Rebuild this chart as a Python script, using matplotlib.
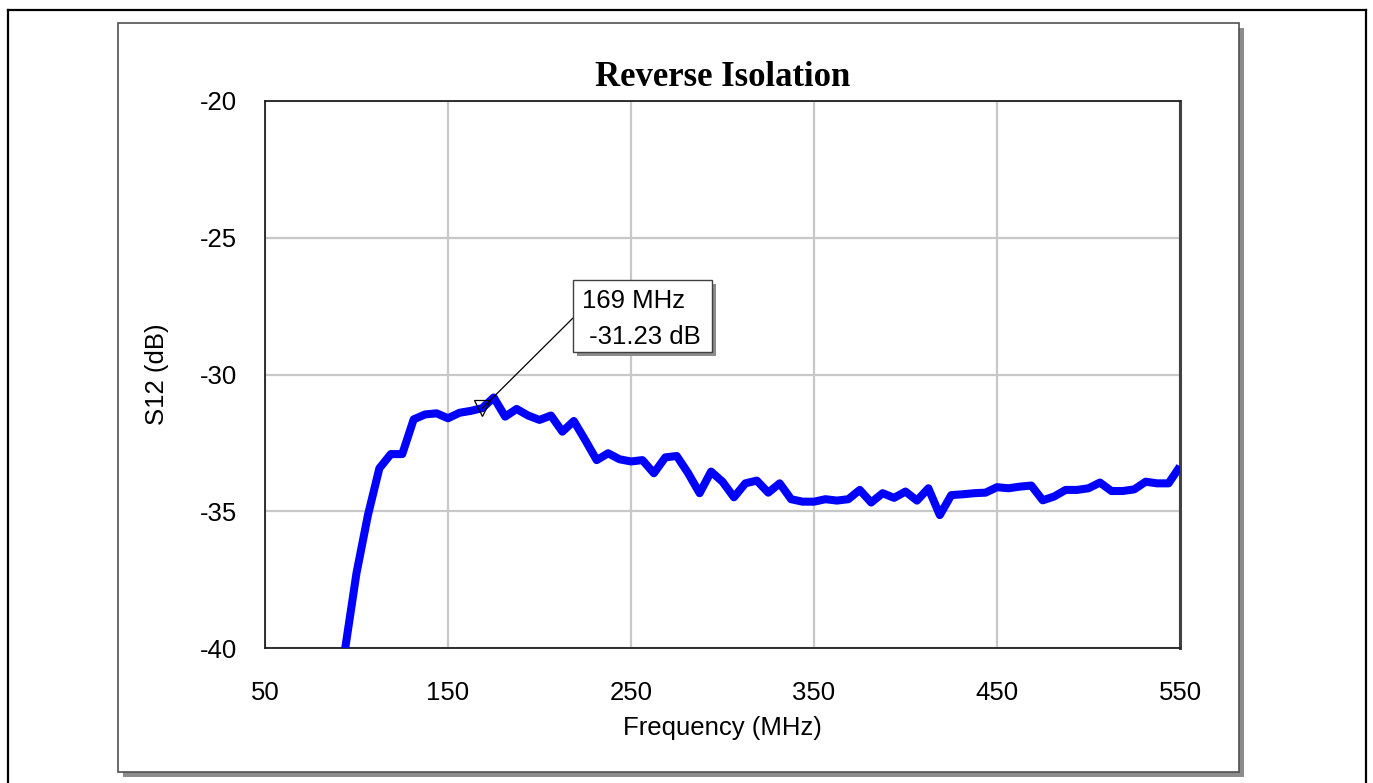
import numpy as np
import matplotlib
matplotlib.use("Agg")
import matplotlib.pyplot as plt
from matplotlib.patches import Rectangle
from matplotlib.lines import Line2D

# ---- data ----
freq_start = 87.5
freq_step = 6.25
s12_db = [
    -46.0, -40.05, -37.26, -35.14, -33.43, -32.91, -32.91, -31.64, -31.46, -31.42,
    -31.60, -31.40, -31.33, -31.23, -30.84, -31.54, -31.26, -31.50, -31.66, -31.50,
    -32.09, -31.70, -32.40, -33.13, -32.88, -33.10, -33.18, -33.13, -33.61, -33.03,
    -32.98, -33.61, -34.34, -33.55, -33.92, -34.49, -33.98, -33.88, -34.32, -33.98,
    -34.56, -34.65, -34.65, -34.56, -34.61, -34.56, -34.22, -34.68, -34.34, -34.51,
    -34.28, -34.61, -34.16, -35.14, -34.41, -34.38, -34.34, -34.32, -34.12, -34.16,
    -34.10, -34.06, -34.60, -34.46, -34.22, -34.22, -34.16, -33.95, -34.26, -34.26,
    -34.20, -33.92, -33.98, -33.98, -33.36,
]
freq_mhz = [freq_start + freq_step * i for i in range(len(s12_db))]
marker_freq = 168.75
marker_label = ["169 MHz", " -31.23 dB"]
x_ticks = [50, 150, 250, 350, 450, 550]
y_ticks = [-40, -35, -30, -25, -20]
title = "Reverse Isolation"
x_label = "Frequency (MHz)"
y_label = "S12 (dB)"

# ---- figure ----
W, H = 1373, 783
plt.rcParams['axes.unicode_minus'] = False
fig = plt.figure(figsize=(W / 100, H / 100), dpi=100)
fig.patch.set_facecolor("white")
FS = 18.5

def fx(x):
    return x / W

def fy(y):
    return 1 - y / H

def rect_px(x0, y0, x1, y1, **kw):
    return Rectangle((fx(x0), fy(y1)), fx(x1) - fx(x0), fy(y0) - fy(y1),
                     transform=fig.transFigure, **kw)

# outer black border
for (xa, ya, xb, yb) in [(8, 10, 1366, 10), (8, 10, 8, 783), (1366, 10, 1366, 783)]:
    fig.add_artist(Line2D([fx(xa), fx(xb)], [fy(ya), fy(yb)], color="black",
                          lw=1.6, transform=fig.transFigure, zorder=-3))

# inner panel with shadow
fig.add_artist(rect_px(123, 28, 1244, 777, facecolor="#8c8c8c", edgecolor="none", zorder=-2))
fig.add_artist(rect_px(118, 23, 1239, 772, facecolor="white", edgecolor="#505050", lw=1.2, zorder=-1))

ax = fig.add_axes([fx(265), fy(648), fx(1180) - fx(265), fy(101) - fy(648)])
ax.set_zorder(1)
ax.set_facecolor("white")
ax.plot(freq_mhz, s12_db, color="#0000ff", lw=5.8, solid_joinstyle="round",
        solid_capstyle="butt", zorder=3)
ax.set_xlim(50, 550)
ax.set_ylim(-40, -20)
ax.set_xticks(x_ticks)
ax.set_yticks(y_ticks)
ax.grid(True, color="#c8c8c8", lw=1.6)
ax.set_axisbelow(True)
ax.tick_params(length=0, labelsize=FS)
for lab in ax.get_xticklabels() + ax.get_yticklabels():
    lab.set_family("Liberation Sans")
ax.tick_params(axis="x", pad=24)
ax.tick_params(axis="y", pad=20)
for s in ax.spines.values():
    s.set_color("#202020")
    s.set_linewidth(1.3)
ax.spines["right"].set_color("#404040")
ax.spines["right"].set_linewidth(2.2)

ax.set_xlabel(x_label, fontsize=FS, family="Liberation Sans", labelpad=8)
ax.set_ylabel(y_label, fontsize=FS, family="Liberation Sans", labelpad=22)
fig.text(fx(723), fy(77), title, ha="center", va="center", fontsize=25,
         fontweight="bold", family="Liberation Serif")

# marker
mi = freq_mhz.index(marker_freq)
mv = s12_db[mi]
ax.plot([freq_mhz[mi]], [mv], marker="v", markersize=12, markerfacecolor="none",
        markeredgecolor="black", markeredgewidth=0.9, zorder=4)
ax.annotate("", xy=(freq_mhz[mi], mv), xycoords="data",
            xytext=(573, H - 318), textcoords="figure pixels",
            arrowprops=dict(arrowstyle="-", color="black", lw=0.9, shrinkA=0, shrinkB=0),
            zorder=4)

# annotation box
fig.add_artist(rect_px(577, 284, 716, 356, facecolor="#8c8c8c", edgecolor="none", zorder=5))
fig.add_artist(rect_px(573, 280, 712, 352, facecolor="white", edgecolor="#404040", lw=1, zorder=6))
fig.text(fx(582), fy(301), marker_label[0], ha="left", va="center", fontsize=FS,
         family="Liberation Sans", zorder=7)
fig.text(fx(582), fy(337), marker_label[1], ha="left", va="center", fontsize=FS,
         family="Liberation Sans", zorder=7)

fig.savefig("out.png", dpi=100)
